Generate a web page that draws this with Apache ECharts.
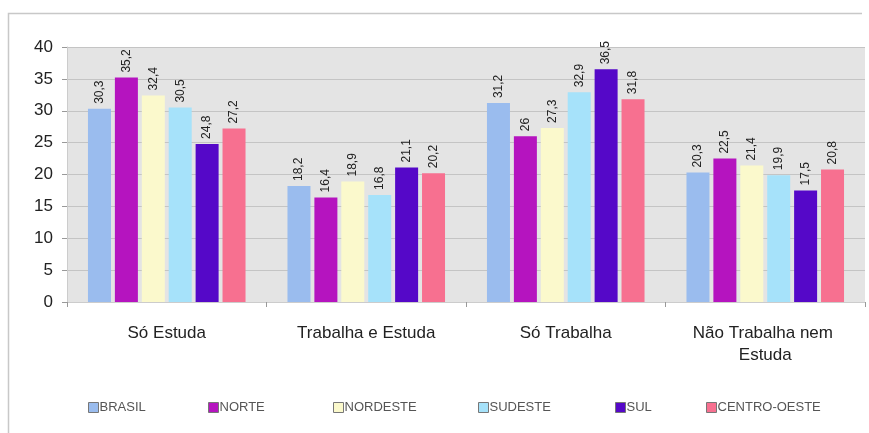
<!DOCTYPE html>
<html>
<head>
    <meta charset="utf-8">
    <title>Situação de estudo e trabalho por região</title>
    <script src="https://cdn.jsdelivr.net/npm/echarts@6/dist/echarts.min.js"></script>
    <style>
        html, body { margin: 0; padding: 0; background: #fff; }
        #main { width: 869px; height: 433px; }
    </style>
</head>
<body>
<div id="main"></div>
<script type="text/javascript">
    // categorias do eixo x
    var categorias = ['Só Estuda', 'Trabalha e Estuda', 'Só Trabalha', 'Não Trabalha nem Estuda'];

    // valores de cada região (%)
    var brasil      = [30.3, 18.2, 31.2, 20.3];
    var norte       = [35.2, 16.4, 26, 22.5];
    var nordeste    = [32.4, 18.9, 27.3, 21.4];
    var sudeste     = [30.5, 16.8, 32.9, 19.9];
    var sul         = [24.8, 21.1, 36.5, 17.5];
    var centroOeste = [27.2, 20.2, 31.8, 20.8];

    var regioes = ['BRASIL', 'NORTE', 'NORDESTE', 'SUDESTE', 'SUL', 'CENTRO-OESTE'];
    var valores = [brasil, norte, nordeste, sudeste, sul, centroOeste];
    var cores = ['#9abcee', '#b514bf', '#fbf9cc', '#a6e2fa', '#5508c8', '#f77090'];

    // posição de cada item da legenda
    var legendaX = [83, 203, 328, 473, 610, 701];

    var myChart = echarts.init(document.getElementById('main'));

    var series = regioes.map(function (nome, i) {
        return {
            name: nome,
            type: 'bar',
            data: valores[i],
            barWidth: 23,
            barGap: '17%',
            itemStyle: { color: cores[i] },
            label: {
                show: true,
                position: 'top',
                rotate: 90,
                align: 'left',
                verticalAlign: 'middle',
                distance: 5,
                fontSize: 12,
                fontFamily: 'Liberation Sans, Arial',
                color: '#222',
                formatter: function (p) {
                    return String(p.value).replace('.', ',');
                }
            }
        };
    });

    var legendas = regioes.map(function (nome, i) {
        return {
            data: [nome],
            left: legendaX[i],
            top: 396,
            icon: 'rect',
            itemWidth: 10,
            itemHeight: 10,
            itemGap: 2,
            selectedMode: false,
            itemStyle: { borderColor: '#777', borderWidth: 1 },
            textStyle: {
                fontSize: 13,
                fontFamily: 'Liberation Sans, Arial',
                color: '#555',
                padding: [0, 0, 0, -4]
            }
        };
    });

    var option = {
        animation: false,
        backgroundColor: '#fff',
        graphic: [
            {
                type: 'polyline',
                shape: { points: [[8.5, 433], [8.5, 13.5], [862, 13.5]] },
                style: { fill: null, stroke: '#c8c8c8', lineWidth: 1.5 }
            }
        ],
        legend: legendas,
        grid: {
            left: 67,
            right: 4,
            top: 47,
            bottom: 131,
            show: true,
            backgroundColor: '#e4e4e4',
            borderWidth: 0
        },
        xAxis: {
            type: 'category',
            data: categorias,
            axisLine: { show: true, lineStyle: { color: '#ccc' } },
            axisTick: { show: true, length: 5, lineStyle: { color: '#999' } },
            axisLabel: {
                interval: 0,
                margin: 20,
                fontSize: 17,
                lineHeight: 22,
                fontFamily: 'Liberation Sans, Arial',
                color: '#222',
                width: 180,
                overflow: 'break'
            }
        },
        yAxis: {
            type: 'value',
            min: 0,
            max: 40,
            interval: 5,
            axisLine: { show: true, lineStyle: { color: '#ccc' } },
            axisTick: { show: true, length: 5, lineStyle: { color: '#999' } },
            axisLabel: {
                margin: 14,
                fontSize: 17,
                fontFamily: 'Liberation Sans, Arial',
                color: '#222'
            },
            splitLine: { lineStyle: { color: '#c4c4c4' } }
        },
        series: series
    };

    myChart.setOption(option);
</script>
</body>
</html>
